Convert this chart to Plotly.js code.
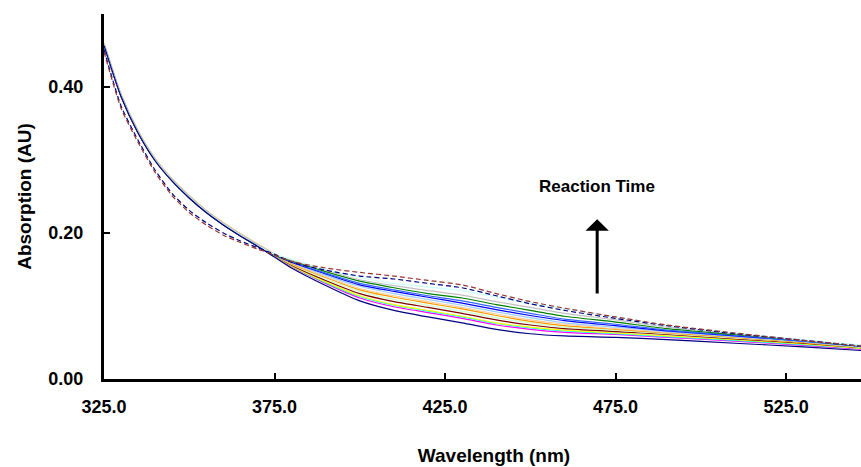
<!DOCTYPE html>
<html>
<head>
<meta charset="utf-8">
<script src="https://cdn.plot.ly/plotly-3.0.1.min.js"></script>
<style>html,body{margin:0;padding:0;background:#fff;overflow:hidden}</style>
</head>
<body>
<div id="wrap" style="width:861px;height:467px;overflow:hidden">
<div id="chart" style="width:884px;height:467px"></div>
</div>
<script>
// Wavelength grid (nm)
const wavelength = [325, 330, 335, 340, 345, 350, 355, 360, 365, 370, 375, 380, 390, 400, 410, 420, 430, 440, 450, 460, 475, 490, 510, 530, 547];

// Absorbance spectra (AU), earliest first
const s01_navy      = [0.457, 0.387, 0.337, 0.299, 0.271, 0.248, 0.228, 0.211, 0.196, 0.182, 0.167, 0.152, 0.128, 0.107, 0.094, 0.085, 0.077, 0.068, 0.062, 0.059, 0.057, 0.054, 0.049, 0.044, 0.039];
const s02_magenta   = [0.457, 0.387, 0.337, 0.299, 0.271, 0.248, 0.228, 0.211, 0.196, 0.182, 0.168, 0.154, 0.131, 0.111, 0.099, 0.091, 0.083, 0.074, 0.068, 0.064, 0.061, 0.057, 0.052, 0.046, 0.041];
const s03_cyan      = [0.458, 0.388, 0.338, 0.300, 0.272, 0.249, 0.229, 0.212, 0.197, 0.183, 0.169, 0.155, 0.132, 0.113, 0.101, 0.093, 0.085, 0.076, 0.070, 0.066, 0.062, 0.058, 0.053, 0.047, 0.042];
const s04_yellow    = [0.458, 0.388, 0.338, 0.300, 0.272, 0.249, 0.229, 0.212, 0.197, 0.183, 0.169, 0.155, 0.133, 0.114, 0.102, 0.094, 0.086, 0.077, 0.071, 0.067, 0.063, 0.059, 0.054, 0.048, 0.042];
const s05_maroon    = [0.458, 0.388, 0.338, 0.300, 0.272, 0.249, 0.229, 0.212, 0.197, 0.183, 0.170, 0.156, 0.135, 0.117, 0.106, 0.098, 0.090, 0.081, 0.074, 0.069, 0.065, 0.061, 0.055, 0.049, 0.043];
const s06_ltgreen   = [0.459, 0.389, 0.339, 0.301, 0.273, 0.250, 0.230, 0.213, 0.198, 0.184, 0.170, 0.157, 0.137, 0.120, 0.109, 0.101, 0.093, 0.084, 0.077, 0.071, 0.067, 0.062, 0.056, 0.050, 0.043];
const s07_orange    = [0.460, 0.390, 0.340, 0.302, 0.274, 0.251, 0.231, 0.214, 0.199, 0.185, 0.171, 0.158, 0.139, 0.122, 0.112, 0.104, 0.096, 0.087, 0.079, 0.073, 0.068, 0.063, 0.057, 0.050, 0.044];
const s08_tan       = [0.460, 0.390, 0.340, 0.302, 0.274, 0.251, 0.231, 0.214, 0.199, 0.185, 0.171, 0.159, 0.140, 0.124, 0.114, 0.106, 0.098, 0.089, 0.081, 0.075, 0.069, 0.064, 0.058, 0.051, 0.044];
const s09_ltblue    = [0.459, 0.389, 0.339, 0.301, 0.273, 0.250, 0.230, 0.213, 0.198, 0.184, 0.171, 0.160, 0.142, 0.127, 0.117, 0.109, 0.101, 0.092, 0.084, 0.077, 0.071, 0.065, 0.058, 0.051, 0.044];
const s10_blue      = [0.458, 0.388, 0.338, 0.300, 0.272, 0.249, 0.229, 0.212, 0.197, 0.183, 0.170, 0.160, 0.144, 0.129, 0.120, 0.112, 0.104, 0.095, 0.087, 0.080, 0.073, 0.066, 0.059, 0.052, 0.045];
const s11_blue2     = [0.458, 0.388, 0.338, 0.300, 0.272, 0.249, 0.229, 0.212, 0.197, 0.183, 0.170, 0.161, 0.145, 0.131, 0.122, 0.114, 0.107, 0.098, 0.090, 0.082, 0.075, 0.067, 0.060, 0.052, 0.045];
const s12_green     = [0.457, 0.387, 0.337, 0.299, 0.271, 0.248, 0.228, 0.211, 0.196, 0.182, 0.170, 0.162, 0.147, 0.134, 0.125, 0.117, 0.111, 0.102, 0.094, 0.086, 0.078, 0.069, 0.061, 0.053, 0.045];
const s13_gray      = [0.459, 0.389, 0.339, 0.301, 0.273, 0.250, 0.230, 0.213, 0.198, 0.184, 0.171, 0.163, 0.149, 0.136, 0.128, 0.121, 0.115, 0.106, 0.098, 0.090, 0.081, 0.071, 0.062, 0.053, 0.046];
const s14_ltcyan    = [0.458, 0.388, 0.338, 0.300, 0.272, 0.249, 0.229, 0.212, 0.197, 0.183, 0.171, 0.164, 0.150, 0.139, 0.131, 0.126, 0.121, 0.112, 0.104, 0.096, 0.085, 0.073, 0.063, 0.054, 0.046];
const s15_dashnavy  = [0.451, 0.374, 0.327, 0.286, 0.254, 0.231, 0.214, 0.200, 0.189, 0.180, 0.171, 0.160, 0.149, 0.141, 0.137, 0.131, 0.125, 0.114, 0.103, 0.094, 0.083, 0.073, 0.062, 0.053, 0.045];
const s16_dashmaroon= [0.448, 0.371, 0.324, 0.283, 0.251, 0.228, 0.211, 0.197, 0.187, 0.178, 0.170, 0.161, 0.152, 0.146, 0.141, 0.135, 0.129, 0.117, 0.106, 0.097, 0.085, 0.074, 0.063, 0.053, 0.045];

const seriesList = [
  {y: s02_magenta,  c: '#FF00FF', d: 'solid'},
  {y: s03_cyan,     c: '#00FFFF', d: 'solid'},
  {y: s04_yellow,   c: '#FFFF00', d: 'solid'},
  {y: s05_maroon,   c: '#800000', d: 'solid'},
  {y: s06_ltgreen,  c: '#CCFFCC', d: 'solid'},
  {y: s07_orange,   c: '#FF9900', d: 'solid'},
  {y: s08_tan,      c: '#FFCC99', d: 'solid'},
  {y: s09_ltblue,   c: '#99CCFF', d: 'solid'},
  {y: s10_blue,     c: '#0000FF', d: 'solid'},
  {y: s11_blue2,    c: '#3366FF', d: 'solid'},
  {y: s12_green,    c: '#008000', d: 'solid'},
  {y: s13_gray,     c: '#C0C0C0', d: 'solid'},
  {y: s14_ltcyan,   c: '#CCFFFF', d: 'solid'},
  {y: s01_navy,     c: '#000080', d: 'solid'},
  {y: s15_dashnavy, c: '#000080', d: '5px,3px'},
  {y: s16_dashmaroon, c: '#993333', d: '5px,3px'}
];

const traces = seriesList.map(s => ({
  x: wavelength, y: s.y, type: 'scatter', mode: 'lines',
  line: {color: s.c, width: 1.2, dash: s.d, shape: 'spline', smoothing: 0.6},
  showlegend: false, hoverinfo: 'skip'
}));

const F = 'Liberation Sans, Arial, sans-serif';
const layout = {
  width: 884, height: 467,
  margin: {l: 104, r: 0, t: 14, b: 88},
  paper_bgcolor: '#fff', plot_bgcolor: '#fff',
  font: {family: F, color: '#000'},
  xaxis: {
    range: [325, 553.7], tick0: 325, dtick: 50, tickformat: '.1f',
    showgrid: false, zeroline: false, showline: true, linecolor: '#000', linewidth: 3,
    ticks: 'inside', ticklen: 6, tickwidth: 2, tickcolor: '#000',
    ticklabelstandoff: 9,
    tickfont: {family: F, size: 18, weight: 'bold', color: '#000'},
    title: {text: 'Wavelength (nm)', font: {family: F, size: 19, weight: 'bold', color: '#000'}, standoff: 34}
  },
  yaxis: {
    range: [0, 0.5], tickvals: [0, 0.2, 0.4], tickformat: '.2f',
    showgrid: false, zeroline: false, showline: true, linecolor: '#000', linewidth: 3,
    ticks: 'inside', ticklen: 6, tickwidth: 2, tickcolor: '#000',
    ticklabelstandoff: 14,
    tickfont: {family: F, size: 18, weight: 'bold', color: '#000'},
    title: {text: 'Absorption (AU)', font: {family: F, size: 19, weight: 'bold', color: '#000'}, standoff: 12}
  },
  annotations: [
    {x: 469.6, y: 0.264, xref: 'x', yref: 'y', text: 'Reaction Time', showarrow: false,
     font: {family: F, size: 17, weight: 'bold', color: '#000'}},
    {x: 469.6, y: 0.219, xref: 'x', yref: 'y', ax: 469.6, ay: 0.115, axref: 'x', ayref: 'y',
     text: '', showarrow: true, arrowhead: 1, arrowsize: 1.3, arrowwidth: 3, arrowcolor: '#000'}
  ]
};

Plotly.newPlot('chart', traces, layout, {staticPlot: true, displayModeBar: false});
</script>
</body>
</html>
